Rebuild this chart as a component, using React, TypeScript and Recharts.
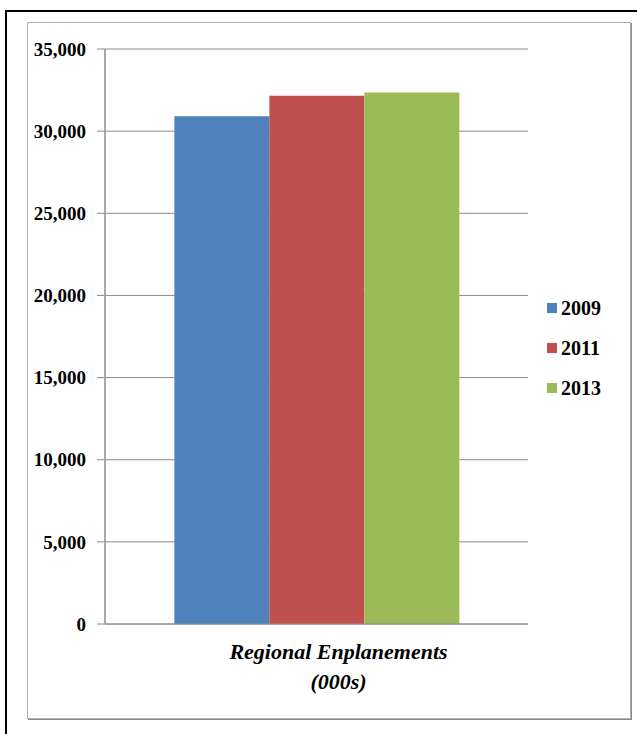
import { BarChart, Bar, XAxis, YAxis, CartesianGrid } from "recharts";

const categories = ["Regional Enplanements"];
const axisTitle = ["Regional Enplanements", "(000s)"];
const years = ["2009", "2011", "2013"];
const values = [30900, 32150, 32350];
const colors = ["#4f81bd", "#c0504d", "#9bbb59"];
const yTicks = [0, 5000, 10000, 15000, 20000, 25000, 30000, 35000];

const data = categories.map((name) => {
  const row: Record<string, string | number> = { name };
  years.forEach((y, i) => {
    row[y] = values[i];
  });
  return row;
});

const serif = "'Liberation Serif', 'Times New Roman', serif";

const fmt = (v: number) => v.toLocaleString("en-US");

const AxisTitle = (props: any) => {
  const { viewBox } = props;
  const cx = viewBox.x + viewBox.width / 2 + 22;
  return (
    <text
      x={cx}
      y={viewBox.y + 35}
      textAnchor="middle"
      fontFamily={serif}
      fontWeight="bold"
      fontStyle="italic"
      fontSize={22}
      fill="#000"
    >
      <tspan x={cx}>{axisTitle[0]}</tspan>
      <tspan x={cx} dy={30}>
        {axisTitle[1]}
      </tspan>
    </text>
  );
};

// legend drawn outside the chart so it doesn't eat plot height
const LegendBox = () => (
  <div
    style={{
      position: "absolute",
      left: 547,
      top: 288,
      fontFamily: serif,
      fontWeight: "bold",
      fontSize: 20,
    }}
  >
    {years.map((y, i) => (
      <div
        key={y}
        style={{ height: 40, display: "flex", alignItems: "center" }}
      >
        <span
          style={{
            width: 10,
            height: 10,
            background: colors[i],
            marginRight: 4,
            display: "inline-block",
          }}
        />
        {y}
      </div>
    ))}
  </div>
);

const App = () => {
  return (
    <div
      style={{
        position: "absolute",
        left: 0,
        top: 0,
        width: 637,
        height: 734,
        overflow: "hidden",
        background: "#fff",
      }}
    >
      <div
        style={{
          position: "absolute",
          left: 5,
          top: 10,
          width: 660,
          height: 760,
          border: "2px solid #000",
        }}
      />
      <div
        style={{
          position: "absolute",
          left: 27,
          top: 22,
          width: 602,
          height: 695,
          border: "1px solid #b0b0b0",
          boxShadow: "1px 1px 0 #8a8a8a",
        }}
      />
      <div style={{ position: "absolute", left: 0, top: 0 }}>
        <BarChart
          width={637}
          height={734}
          data={data}
          margin={{ top: 49, right: 109, bottom: 0, left: 0 }}
          barCategoryGap="16.4%"
          barGap={0}
        >
          <CartesianGrid
            vertical={false}
            stroke="#8c8c8c"
            strokeWidth={1}
          />
          <XAxis
            dataKey="name"
            tick={false}
            tickLine={false}
            axisLine={{ stroke: "#8c8c8c" }}
            height={110}
            label={<AxisTitle />}
          />
          <YAxis
            width={105}
            domain={[0, 35000]}
            ticks={yTicks}
            tickFormatter={fmt}
            tickSize={8}
            tickMargin={11}
            axisLine={{ stroke: "#a8a8a8", strokeWidth: 2 }}
            tickLine={{ stroke: "#8c8c8c" }}
            tick={{
              fontFamily: serif,
              fontWeight: "bold",
              fontSize: 19,
              fill: "#000",
            }}
            interval={0}
          />
          {years.map((y, i) => (
            <Bar
              key={y}
              dataKey={y}
              fill={colors[i]}
              isAnimationActive={false}
            />
          ))}
        </BarChart>
      </div>
      <LegendBox />
    </div>
  );
};

export default App;
